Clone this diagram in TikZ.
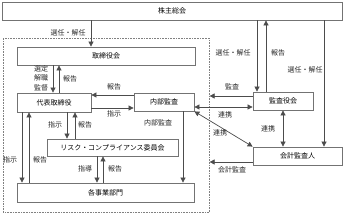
\documentclass[tikz,border=0pt]{standalone}
\usepackage{fontspec}
\newfontfamily\jp{Noto Sans CJK JP}
\usetikzlibrary{arrows.meta}
\tikzset{
  box/.style={draw=black!55, line width=0.8pt, fill=white, inner sep=0pt, font=\jp\fontsize{7}{9.5}\selectfont},
  lbl/.style={inner sep=0pt, font=\jp\fontsize{7}{9.5}\selectfont, text=black!85},
  arr/.style={draw=black!70, line width=0.7pt, -{Triangle[length=5pt,width=5pt]}},
  darr/.style={draw=black!70, line width=0.7pt, {Triangle[length=5pt,width=5pt]}-{Triangle[length=5pt,width=5pt]}},
}
\begin{document}
\begin{tikzpicture}[x=1pt,y=-1pt]
\useasboundingbox (0,0) rectangle (344,213);
% group frame
\node[draw=black!50, densely dotted, line width=0.6pt, inner sep=0pt, minimum width=206pt, minimum height=174pt, anchor=north west] (grp) at (3,38) {};
% boxes
\node[box, minimum width=340pt, minimum height=18pt] (sh) at (172,11) {株主総会};
\node[box, minimum width=178pt, minimum height=18pt] (bod) at (106,56) {取締役会};
\node[box, minimum width=74pt, minimum height=19pt] (rep) at (54,102.5) {代表取締役};
\node[box, minimum width=60pt, minimum height=18pt] (ia) at (164,102) {内部監査};
\node[box, minimum width=60pt, minimum height=18pt] (kan) at (283,101) {監査役会};
\node[box, minimum width=89pt, minimum height=18pt] (acc) at (297.5,156) {会計監査人};
\node[box, minimum width=131pt, minimum height=17pt] (risk) at (112.5,147.5) {リスク・コンプライアンス委員会};
\node[box, minimum width=177pt, minimum height=19pt] (div) at (105.5,192.5) {各事業部門};
% connectors
\draw[arr] (sh.south -| 91,0) -- (bod.north -| 91,0);
\draw[arr] (bod.south -| 53,0) -- (rep.north -| 53,0);
\draw[arr] (rep.north -| 59,0) -- (bod.south -| 59,0);
\draw[arr] (ia.west |- 0,95) -- (rep.east |- 0,95);
\draw[arr] (rep.east |- 0,108) -- (ia.west |- 0,108);
\draw[arr] (rep.south -| 67,0) -- (risk.north -| 67,0);
\draw[arr] (risk.north -| 75,0) -- (rep.south -| 75,0);
\draw[arr] (rep.south -| 22,0) -- (div.north -| 22,0);
\draw[arr] (div.north -| 29,0) -- (rep.south -| 29,0);
\draw[arr] (risk.south -| 97,0) -- (div.north -| 97,0);
\draw[arr] (div.north -| 103,0) -- (risk.south -| 103,0);
\draw[arr] (ia.south -| 183,0) -- (div.north -| 183,0);
\draw[arr] (sh.south -| 257,0) -- (kan.north -| 257,0);
\draw[arr] (kan.north -| 266,0) -- (sh.south -| 266,0);
\draw[arr] (sh.south -| 324,0) -- (acc.north -| 324,0);
\draw[arr] (kan.west |- 0,96) -- (grp.east |- 0,96);
\draw[arr] (acc.west |- 0,162) -- (grp.east |- 0,162);
\draw[darr] (ia.east |- 0,107) -- (kan.west |- 0,107);
\draw[darr] (ia.south east) -- (acc.north west);
\draw[darr] (kan.south -| 283,0) -- (acc.north -| 283,0);
% labels
\node[lbl] (l1) at (68,33) {選任・解任};
\node[lbl, align=right, text width=16pt] (l2) at (40,78) {選定\\解職\\監督};
\node[lbl] (l3) at (70,79) {報告};
\node[lbl] (l4) at (114,87) {報告};
\node[lbl] (l5) at (114,114) {指示};
\node[lbl] (l6) at (55,125) {指示};
\node[lbl] (l7) at (85,125) {報告};
\node[lbl] (l8) at (158,123) {内部監査};
\node[lbl] (l9) at (10,160) {指示};
\node[lbl] (l10) at (40,160) {報告};
\node[lbl] (l11) at (85,169) {指導};
\node[lbl] (l12) at (115,169) {報告};
\node[lbl] (l13) at (233,53) {選任・解任};
\node[lbl] (l14) at (278,53) {報告};
\node[lbl] (l15) at (305,70) {選任・解任};
\node[lbl] (l16) at (232,87) {監査};
\node[lbl] (l17) at (225,115) {連携};
\node[lbl] (l18) at (220,133) {連携};
\node[lbl] (l19) at (268,129) {連携};
\node[lbl] (l20) at (232,170) {会計監査};
\end{tikzpicture}
\end{document}
